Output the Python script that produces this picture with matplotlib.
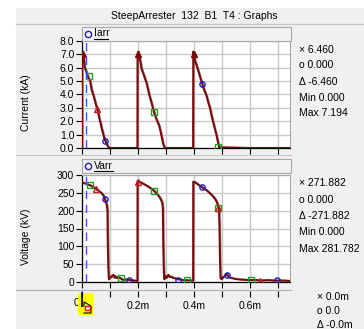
import matplotlib
matplotlib.use("Agg")
import matplotlib.pyplot as plt
from matplotlib.patches import Rectangle

plt.rcParams['font.family'] = ['Liberation Sans', 'DejaVu Sans']
plt.rcParams['font.size'] = 7.5

W, H = 364, 329

# ---- data (time in ms, shown as "m") ----
t_iarr = [0.0, 0.0005, 0.003, 0.006, 0.010, 0.014, 0.018, 0.024, 0.029, 0.035, 0.040,
          0.044, 0.049, 0.053, 0.058, 0.062, 0.066, 0.070, 0.075, 0.079, 0.084, 0.088,
          0.093, 0.098, 0.150, 0.198,
          0.1985, 0.201, 0.205, 0.209, 0.213, 0.220, 0.230, 0.240, 0.248, 0.257, 0.265,
          0.276, 0.283, 0.290, 0.296, 0.350, 0.397,
          0.3975, 0.400, 0.404, 0.409, 0.415, 0.422, 0.430, 0.437, 0.445, 0.451, 0.457,
          0.463, 0.469, 0.475, 0.481, 0.486, 0.490, 0.600, 0.743]
i_arr = [0.0, 7.0, 7.2, 6.8, 6.0, 5.8, 5.5, 5.2, 5.0, 4.3, 4.0,
         3.7, 3.3, 3.0, 2.6, 2.2, 1.9, 1.5, 1.1, 0.8, 0.5, 0.3,
         0.1, 0.0, 0.0, 0.0,
         7.0, 7.2, 6.8, 6.4, 5.9, 5.5, 4.9, 4.0, 3.4, 2.7, 2.2,
         1.65, 1.0, 0.3, 0.0, 0.0, 0.0,
         7.2, 6.9, 6.5, 6.2, 5.8, 5.3, 4.75, 4.3, 3.9, 3.4, 3.0,
         2.4, 1.9, 1.4, 0.9, 0.4, 0.05, 0.0, 0.0]

t_varr = [0.0, 0.008, 0.016, 0.029, 0.040, 0.052, 0.062, 0.070, 0.077, 0.082, 0.086,
          0.089, 0.091, 0.092, 0.094, 0.096, 0.100, 0.104, 0.108, 0.112, 0.116, 0.120,
          0.124, 0.130, 0.138, 0.147, 0.160, 0.171, 0.185, 0.198,
          0.1985, 0.205, 0.215, 0.231, 0.245, 0.257, 0.268, 0.276, 0.282, 0.287, 0.289,
          0.290, 0.292, 0.294, 0.298, 0.303, 0.308, 0.314, 0.320, 0.326, 0.335, 0.344,
          0.350, 0.360, 0.374, 0.385, 0.397,
          0.3975, 0.405, 0.415, 0.430, 0.445, 0.457, 0.468, 0.476, 0.481, 0.486, 0.489,
          0.491, 0.493, 0.495, 0.499, 0.504, 0.510, 0.517, 0.524, 0.530, 0.535, 0.545,
          0.564, 0.585, 0.603, 0.620, 0.636, 0.660, 0.695, 0.720, 0.743]
v_arr = [279, 277, 275, 271, 266, 260, 254, 249, 242, 232, 222,
         214, 200, 120, 40, 8, 12, 14, 18, 20, 12, 16,
         11, 14, 10, 6, 7, 5, 4, 3,
         283, 281, 277, 270, 263, 256, 247, 239, 231, 221, 205,
         120, 40, 8, 16, 12, 20, 14, 15, 11, 10, 7,
         8, 5, 5, 4, 4,
         281, 279, 273, 265, 257, 249, 240, 232, 225, 214, 207,
         160, 60, 10, 8, 14, 16, 23, 14, 12, 11, 9,
         7, 6, 5, 6, 4, 5, 4, 4, 3]

# cursor / marker symbols on the traces
iarr_circ_t, iarr_circ_v = [0.082, 0.430], [0.55, 4.75]
iarr_sq_t, iarr_sq_v = [0.026, 0.257, 0.487], [5.4, 2.7, 0.05]
iarr_tri_t, iarr_tri_v = [0.055], [2.9]
iarr_peak_t, iarr_peak_v = [0.003, 0.200, 0.400], [7.0, 7.0, 7.0]
varr_circ_t, varr_circ_v = [0.082, 0.169, 0.344, 0.430, 0.517, 0.695], [232, 6, 7, 265, 20, 5]
varr_sq_t, varr_sq_v = [0.029, 0.138, 0.257, 0.374, 0.487, 0.603], [271, 10, 256, 5, 207, 6]
varr_tri_t, varr_tri_v = [0.050, 0.200, 0.487, 0.636], [262, 281, 207, 3]

cursor_t = 0.0155
x_max = 0.743

title = "SteepArrester  132  B1  T4 : Graphs"
iarr_info = ["\u00d7 6.460", "o 0.000", "\u0394 -6.460", "Min 0.000", "Max 7.194"]
varr_info = ["\u00d7 271.882", "o 0.000", "\u0394 -271.882", "Min 0.000", "Max 281.782"]
time_info = ["\u00d7 0.0m", "o 0.0", "\u0394 -0.0m"]
x_ticks = [0.2, 0.4, 0.6]
x_ticklabels = ["0.2m", "0.4m", "0.6m"]

CURVE = '#7a0a0a'
GRID = '#c8c8c8'


def rect(x0, y0, x1, y1):
    return [x0 / W, 1 - y1 / H, (x1 - x0) / W, (y1 - y0) / H]


fig = plt.figure(figsize=(W / 100, H / 100), dpi=100)
fig.patch.set_facecolor('white')

# background in pixel coordinates
bg = fig.add_axes([0, 0, 1, 1], zorder=-5)
bg.set_xlim(0, W)
bg.set_ylim(H, 0)
bg.axis('off')
bg.add_patch(Rectangle((16, 8), W - 16, H - 8, color='#f0f0f0', lw=0))
bg.plot([16, W], [23.5, 23.5], color='#c8c8c8', lw=1)
bg.text(194, 16, title, ha='center', va='center', fontsize=7.5)
for ytop in (27, 159):
    bg.add_patch(Rectangle((82, ytop), 208.5, 14, facecolor='#f2f2f2', edgecolor='#a8a8a8', lw=0.8))
bg.plot([16, 290.5], [155, 155], color='#c8c8c8', lw=0.8)
bg.plot([16, 290.5], [290, 290], color='#b0b0b0', lw=0.8)
bg.text(26, 103, "Current (kA)", rotation=90, ha='center', va='center', fontsize=7.5)
bg.text(26, 237, "Voltage (kV)", rotation=90, ha='center', va='center', fontsize=7.5)
# legend entries
for ycen, name, x_end in ((33.5, "Iarr", 108), (166, "Varr", 113)):
    bg.plot([87.5], [ycen], marker='o', ms=4.5, mfc='none', mec='#2020c0', mew=1)
    bg.text(94, ycen, name, ha='left', va='center', fontsize=7.5)
    bg.plot([94, x_end], [ycen + 5, ycen + 5], color='black', lw=0.8)
for lines, ys, x0 in ((iarr_info, [50, 65.5, 81.7, 98, 113.5], 299),
                      (varr_info, [183.5, 200, 216, 232, 248.5], 299),
                      (time_info, [297.5, 311.5, 324.5], 317)):
    for s, yy in zip(lines, ys):
        bg.text(x0, yy, s, ha='left', va='center', fontsize=7.5)


def style(ax, ymax, ystep, fmt):
    ax.set_facecolor('white')
    ax.set_xlim(0, x_max)
    ax.set_ylim(0, ymax)
    ax.set_xticks([k * 0.1 for k in range(8)])
    ax.set_xticklabels([])
    yt = [k * ystep for k in range(int(round(ymax / ystep)) + 1)]
    ax.set_yticks(yt)
    ax.set_yticklabels([fmt.format(v) for v in yt])
    ax.grid(True, color=GRID, lw=1)
    ax.set_axisbelow(True)
    ax.tick_params(direction='out', length=4, width=0.8, pad=1.5, labelsize=7.5)
    for s in ('top', 'right'):
        ax.spines[s].set_color('#a8a8a8')
        ax.spines[s].set_linewidth(0.8)
    for s in ('left', 'bottom'):
        ax.spines[s].set_color('black')
        ax.spines[s].set_linewidth(0.9)


ax1 = fig.add_axes(rect(82, 41, 290, 148))
style(ax1, 8.0, 1.0, "{:.1f}")
ax1.plot([t + 0.003 for t in t_iarr], i_arr, color='#a0a0a0', lw=1.2, zorder=2)
ax1.plot(t_iarr, i_arr, color=CURVE, lw=1.5, zorder=3)
ax1.plot(iarr_circ_t, iarr_circ_v, 'o', ms=3.8, mfc='none', mec='#2020c0', mew=1, zorder=4)
ax1.plot(iarr_sq_t, iarr_sq_v, 's', ms=3.8, mfc='none', mec='#20a020', mew=1, zorder=4)
ax1.plot(iarr_tri_t, iarr_tri_v, '^', ms=4.2, mfc='none', mec='#c02020', mew=1, zorder=4)
ax1.plot(iarr_peak_t, iarr_peak_v, '^', ms=4.5, mfc=CURVE, mec=CURVE, mew=1, zorder=4)
ax1.axvline(cursor_t, color='#4a4aff', lw=1, ls=(0, (6, 4)), zorder=5)

ax2 = fig.add_axes(rect(82, 175, 290, 282))
style(ax2, 300, 50, "{:.0f}")
ax2.plot([t + 0.003 for t in t_varr], v_arr, color='#a0a0a0', lw=1.2, zorder=2)
ax2.plot(t_varr, v_arr, color=CURVE, lw=1.5, zorder=3)
ax2.plot(varr_circ_t, varr_circ_v, 'o', ms=3.8, mfc='none', mec='#2020c0', mew=1, zorder=4)
ax2.plot(varr_sq_t, varr_sq_v, 's', ms=3.8, mfc='none', mec='#20a020', mew=1, zorder=4)
ax2.plot(varr_tri_t, varr_tri_v, '^', ms=4.2, mfc='none', mec='#c02020', mew=1, zorder=4)
ax2.axvline(cursor_t, color='#4a4aff', lw=1, ls=(0, (6, 4)), zorder=5)

# shared time axis strip
ax3 = fig.add_axes(rect(82, 286, 290, 291))
ax3.set_xlim(0, x_max)
ax3.set_facecolor('none')
ax3.set_yticks([])
for s in ('top', 'right', 'left', 'bottom'):
    ax3.spines[s].set_visible(False)
ax3.set_xticks([k * 0.1 for k in range(8)], minor=True)
ax3.set_xticks(x_ticks)
ax3.set_xticklabels(x_ticklabels)
ax3.tick_params(axis='x', which='both', direction='out', length=4, width=0.8, pad=3, labelsize=7.5)

# "0" label sits partly under the time cursor handle
bg.text(76, 302.5, "0", ha='center', va='center', fontsize=7.5, zorder=2)
bg.add_patch(Rectangle((77.5, 293), 15, 22, color='#ffff00', lw=0, zorder=3))
bg.plot([82, 82], [293, 306], color='black', lw=1.2, zorder=4)
bg.plot([82, 84, 84, 91, 91, 84], [306, 306, 302, 306, 313, 313], color='black', lw=0.8, zorder=4)
bg.add_patch(Rectangle((85, 306), 5, 4, facecolor='white', edgecolor='#e01010', lw=1, zorder=5))

fig.savefig("out.png", dpi=100)
